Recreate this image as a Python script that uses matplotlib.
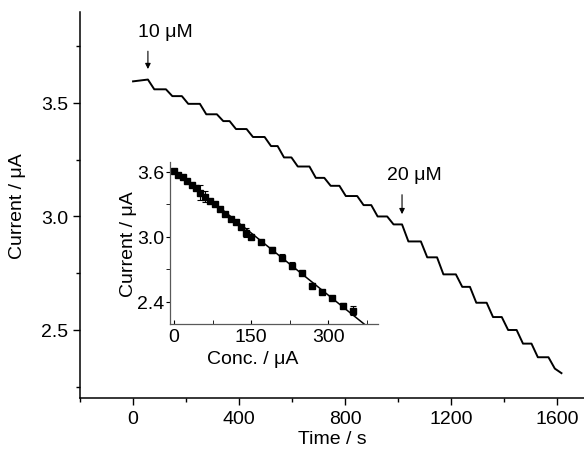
import numpy as np
import matplotlib.pyplot as plt
from matplotlib.ticker import MultipleLocator

plt.rcParams['font.family'] = ['Liberation Sans', 'DejaVu Sans']
plt.rcParams['font.size'] = 14

# ---------------------------------------------------------------------------
# Data
# ---------------------------------------------------------------------------
# amperometric trace: start, addition times (s) and plateau currents (uA)
t_inicio = 0
i_inicio = 3.595
t_pasos = [56, 124, 184, 252, 316, 364, 428, 496, 545, 597, 665, 721, 778,
           845, 898, 958, 1014, 1085, 1146, 1217, 1270, 1333, 1390, 1446,
           1502, 1566]
i_pasos = [3.56, 3.53, 3.496, 3.45, 3.42, 3.385, 3.35, 3.31, 3.26, 3.22,
           3.17, 3.135, 3.09, 3.05, 3.00, 2.965, 2.89, 2.82, 2.745, 2.69,
           2.62, 2.557, 2.50, 2.44, 2.38, 2.33]
t_fin = 1615
i_fin = 2.31

# calibration (inset)
conc = [0, 8, 17, 25, 34, 43, 51, 60, 70, 80, 90, 99, 110, 121, 130, 141,
        149, 170, 190, 210, 229, 249, 268, 288, 307, 329, 348]
corriente = [3.606, 3.575, 3.55, 3.52, 3.48, 3.45, 3.41, 3.37, 3.335, 3.30,
             3.26, 3.21, 3.166, 3.135, 3.095, 3.04, 3.003, 2.95, 2.88, 2.81,
             2.735, 2.668, 2.55, 2.495, 2.434, 2.366, 2.32]
error = [0.01, 0.01, 0.01, 0.01, 0.01, 0.01, 0.07, 0.05, 0.01, 0.01, 0.01,
         0.01, 0.01, 0.01, 0.01, 0.04, 0.01, 0.01, 0.03, 0.03, 0.03, 0.01,
         0.025, 0.01, 0.01, 0.025, 0.04]
ajuste_x = [0, 372]
ajuste_y = [3.61, 2.19]

# ---------------------------------------------------------------------------
# Build staircase trace (each drop spread over DT_CAIDA seconds)
# ---------------------------------------------------------------------------
DT_CAIDA = 24
tx = [t_inicio, t_pasos[0]]
iy = [i_inicio, i_inicio + 0.008]
for k, (t, i) in enumerate(zip(t_pasos, i_pasos)):
    ultimo = k + 1 == len(t_pasos)
    t_sig = t_fin if ultimo else t_pasos[k + 1]
    tx += [t + DT_CAIDA, t_sig]
    iy += [i, i_fin if ultimo else i]

fig = plt.figure(figsize=(5.84, 4.52), dpi=100)
ax = fig.add_axes([0.137, 0.117, 0.863, 0.854])
ax.plot(tx, iy, color='k', lw=1.4, solid_joinstyle='round')

ax.set_xlim(-200, 1700)
ax.set_ylim(2.2, 3.9)
ax.xaxis.set_major_locator(MultipleLocator(400))
ax.xaxis.set_minor_locator(MultipleLocator(200))
ax.set_yticks([2.5, 3.0, 3.5])
ax.yaxis.set_minor_locator(MultipleLocator(0.25))
ax.tick_params(which='major', direction='out', length=5, width=1)
ax.tick_params(which='minor', direction='out', length=3, width=1)
for s in ['top', 'right']:
    ax.spines[s].set_visible(False)
for s in ['left', 'bottom']:
    ax.spines[s].set_linewidth(1.1)
ax.set_xlabel('Time / s', labelpad=2)
ax.set_ylabel('Current / μA')
ax.yaxis.set_label_coords(-0.108, 0.5)

ax.annotate('', xy=(56, 3.637), xytext=(56, 3.74),
            arrowprops=dict(arrowstyle='-|>', color='k', lw=0.8, mutation_scale=8))
ax.text(120, 3.813, '10 μM', ha='center', va='center')
ax.annotate('', xy=(1014, 2.998), xytext=(1014, 3.108),
            arrowprops=dict(arrowstyle='-|>', color='k', lw=0.8, mutation_scale=8))
ax.text(1059, 3.187, '20 μM', ha='center', va='center')

# inset
axi = fig.add_axes([0.291, 0.281, 0.356, 0.358])
axi.errorbar(conc, corriente, yerr=error, fmt='s', color='k', ms=4,
             elinewidth=0.8, capsize=2, capthick=0.8)
axi.plot(ajuste_x, ajuste_y, color='k', lw=1.1)
axi.set_xlim(-8, 397)
axi.set_ylim(2.197, 3.69)
axi.set_xticks([0, 150, 300])
axi.xaxis.set_minor_locator(MultipleLocator(75))
axi.set_yticks([2.4, 3.0, 3.6])
axi.yaxis.set_minor_locator(MultipleLocator(0.3))
axi.tick_params(axis='x', which='both', direction='in', length=3, pad=3)
axi.tick_params(axis='y', which='both', direction='out', length=3, pad=1)
for s in ['top', 'right']:
    axi.spines[s].set_visible(False)
for s in ['left', 'bottom']:
    axi.spines[s].set_color('0.35')
    axi.spines[s].set_linewidth(0.9)
axi.patch.set_alpha(0)
axi.set_xlabel('Conc. / μA')
axi.xaxis.set_label_coords(0.40, -0.16)
axi.set_ylabel('Current / μA', labelpad=0)

fig.savefig('out.png', dpi=100)
